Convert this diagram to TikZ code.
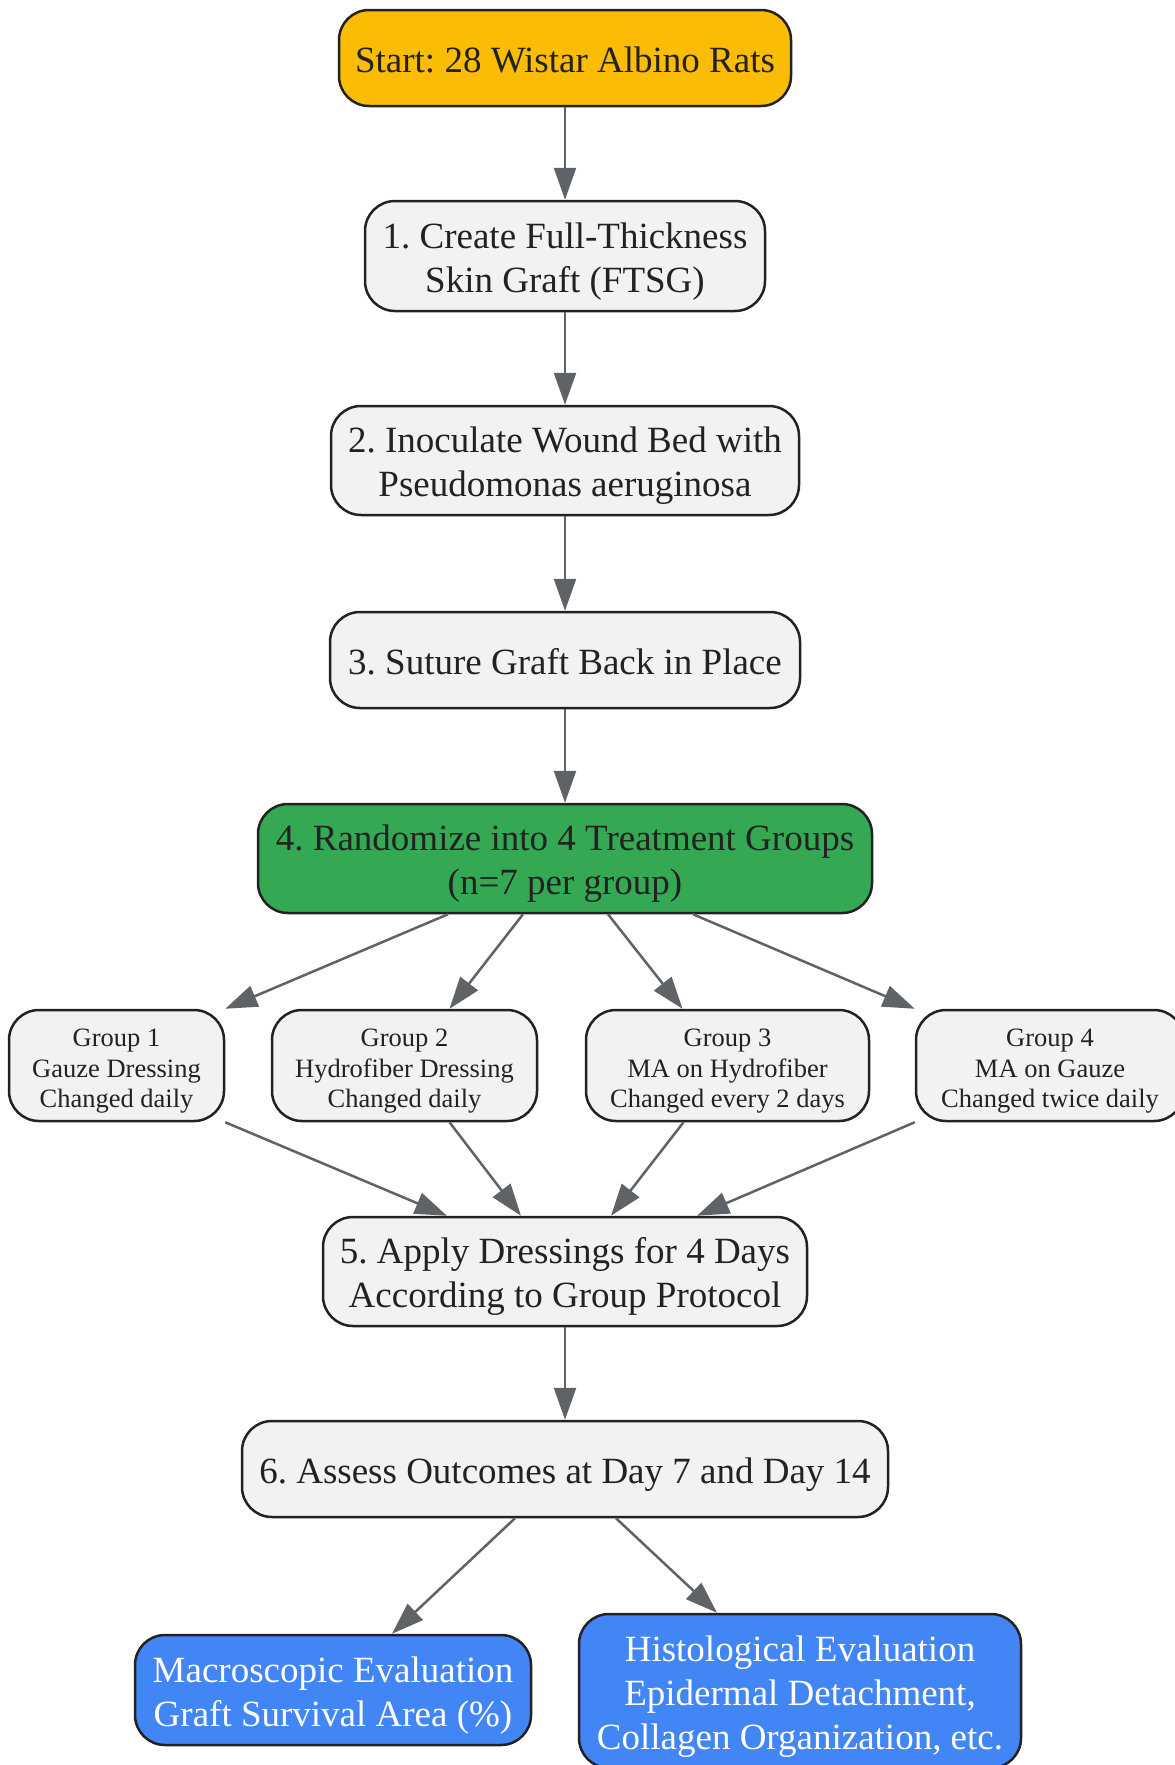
\documentclass[tikz,border=0pt]{standalone}
\usepackage{fontspec}
\setmainfont{Liberation Serif}
\usetikzlibrary{arrows.meta}
\frenchspacing

\definecolor{startyellow}{HTML}{FBBC05}
\definecolor{stepgray}{HTML}{F1F2F4}
\definecolor{groupgreen}{HTML}{34A853}
\definecolor{evalblue}{HTML}{4285F4}
\definecolor{edgegray}{HTML}{5F6368}
\definecolor{inkdark}{HTML}{222222}

\begin{document}
\begin{tikzpicture}[x=1pt, y=-1pt,
    box/.style={draw=inkdark, line width=2.5pt, rounded corners=30pt, align=center,
      inner sep=0pt, text=inkdark, font=\fontsize{37}{44}\selectfont,
      text depth=8pt, text height=36pt},
    tworows/.style={text height=80pt},
    threerows/.style={text height=124pt},
    stepbox/.style={box, fill=stepgray},
    groupbox/.style={box, fill=stepgray, font=\fontsize{26.5}{30.5}\selectfont,
      text depth=6pt, text height=90pt},
    evalbox/.style={box, fill=evalblue, text=white},
    flow/.style={draw=edgegray, line width=2.5pt, -{Triangle[length=32pt, width=22pt]}}]
  \useasboundingbox (0,0) rectangle (1175,1765);

  % Start node.
  \node[box, fill=startyellow, minimum width=452pt, minimum height=96pt] (start) at (565,58)
    {Start: 28 Wistar Albino Rats};

  % Preparation steps.
  \node[stepbox, tworows, minimum width=400pt, minimum height=110pt] (graft) at (565,256)
    {1. Create Full-Thickness\\Skin Graft (FTSG)};
  \node[stepbox, tworows, minimum width=468pt, minimum height=109pt] (inoculate) at (565,460.5)
    {2. Inoculate Wound Bed with\\Pseudomonas aeruginosa};
  \node[stepbox, minimum width=470pt, minimum height=96pt] (suture) at (565,660)
    {3. Suture Graft Back in Place};

  % Randomization.
  \node[box, tworows, fill=groupgreen, minimum width=614pt, minimum height=109pt] (randomize) at (565,858.5)
    {4. Randomize into 4 Treatment Groups\\(n=7 per group)};

  % Treatment groups.
  \node[groupbox, minimum width=215pt, minimum height=111pt] (groupA) at (116.5,1065.5)
    {Group 1\\Gauze Dressing\\Changed daily};
  \node[groupbox, minimum width=265pt, minimum height=111pt] (groupB) at (404.5,1065.5)
    {Group 2\\Hydrofiber Dressing\\Changed daily};
  \node[groupbox, minimum width=283pt, minimum height=111pt] (groupC) at (727.5,1065.5)
    {Group 3\\MA on Hydrofiber\\Changed every 2 days};
  \node[groupbox, minimum width=268pt, minimum height=111pt] (groupD) at (1050,1065.5)
    {Group 4\\MA on Gauze\\Changed twice daily};

  % Dressing and assessment.
  \node[stepbox, tworows, minimum width=484pt, minimum height=109pt] (apply) at (565,1271.5)
    {5. Apply Dressings for 4 Days\\According to Group Protocol};
  \node[stepbox, minimum width=646pt, minimum height=96pt] (assess) at (565,1469)
    {6. Assess Outcomes at Day 7 and Day 14};

  % Evaluations.
  \node[evalbox, tworows, minimum width=396pt, minimum height=110pt] (macro) at (333,1690)
    {Macroscopic Evaluation\\Graft Survival Area (\%)};
  \node[evalbox, threerows, minimum width=442pt, minimum height=154pt] (histo) at (800,1691)
    {Histological Evaluation\\Epidermal Detachment,\\Collagen Organization, etc.};

  % Main chain.
  \draw[flow] (start) -- (graft);
  \draw[flow] (graft) -- (inoculate);
  \draw[flow] (inoculate) -- (suture);
  \draw[flow] (suture) -- (randomize);

  % Split into groups.
  \draw[flow] ([xshift=-117pt]randomize.south) -- (groupA.north east);
  \draw[flow] ([xshift=-42pt]randomize.south) -- ([xshift=45pt]groupB.north);
  \draw[flow] ([xshift=43pt]randomize.south) -- ([xshift=-45pt]groupC.north);
  \draw[flow] ([xshift=128pt]randomize.south) -- (groupD.north west);

  % Merge groups.
  \draw[flow] (groupA.south east) -- ([xshift=-118pt]apply.north);
  \draw[flow] ([xshift=45pt]groupB.south) -- ([xshift=-44pt]apply.north);
  \draw[flow] ([xshift=-44pt]groupC.south) -- ([xshift=46pt]apply.north);
  \draw[flow] (groupD.south west) -- ([xshift=132pt]apply.north);

  \draw[flow] (apply) -- (assess);

  % Outcomes.
  \draw[flow] ([xshift=-50pt]assess.south) -- ([xshift=59pt]macro.north);
  \draw[flow] ([xshift=51pt]assess.south) -- ([xshift=-83pt]histo.north);

\end{tikzpicture}
\end{document}
